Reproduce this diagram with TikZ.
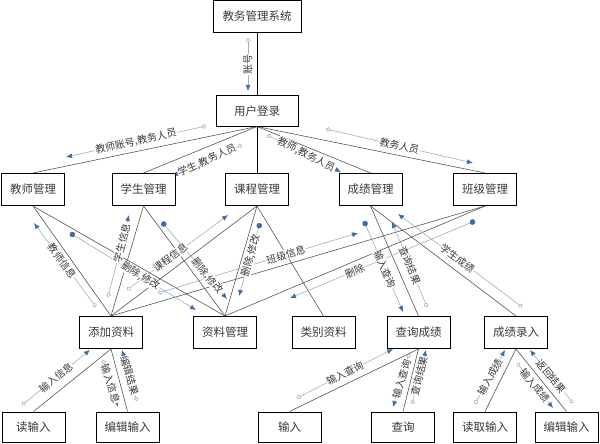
\documentclass[tikz,border=0pt]{standalone}
\usepackage{fontspec}
\setmainfont{Noto Sans CJK SC}
\usetikzlibrary{arrows.meta,backgrounds}
\definecolor{flowc}{HTML}{9AB0C8}
\definecolor{tipc}{HTML}{3F6CA6}
\definecolor{txtc}{HTML}{3A3A3A}
\definecolor{linec}{HTML}{4A4A4A}
\newcommand\flw[4]{\coordinate (#1s) at #2; \coordinate (#1e) at #3; \draw[#4] (#1s) -- (#1e);}
\newcommand\flab[3]{\path (#1s) -- node[lbl,sloped,pos=#2]{#3} (#1e);}
\begin{document}
\begin{tikzpicture}[x=1pt,y=-1pt,
 box/.style={draw=black, line width=1pt, fill=white, minimum width=63pt, minimum height=32pt, inner sep=0pt, font=\fontsize{11.5}{11.5}\selectfont, text=txtc},
 conn/.style={draw=linec, line width=0.55pt},
 flowo/.style={draw=flowc, line width=0.6pt, {Circle[open,length=4.5pt,width=4.5pt]}-{Latex[length=6pt,width=5pt,color=tipc]}},
 flowd/.style={draw=flowc, line width=0.6pt, {Circle[length=5.5pt,width=5.5pt,color=tipc]}-{Latex[length=6pt,width=5pt,color=tipc]}},
 lbl/.style={fill=white, inner sep=0.5pt, font=\fontsize{10}{10}\selectfont, text=txtc},
]
\useasboundingbox (0,0) rectangle (600,444);
% boxes
\node[box, minimum width=88pt] (sys) at (257,16.5) {教务管理系统};
\node[box, minimum width=82pt, minimum height=30pt] (login) at (257,111) {用户登录};
\node[box] (teach) at (33,189.5) {教师管理};
\node[box] (stu) at (143.5,189.5) {学生管理};
\node[box] (course) at (257,189.5) {课程管理};
\node[box] (grade) at (370.5,189.5) {成绩管理};
\node[box] (cls) at (485,189.5) {班级管理};
\node[box] (add) at (111,332.5) {添加资料};
\node[box] (data) at (225,332.5) {资料管理};
\node[box] (cat) at (323.5,332.5) {类别资料};
\node[box] (query) at (418.5,332.5) {查询成绩};
\node[box] (entry) at (516,332.5) {成绩录入};
\node[box, minimum height=30pt] (read) at (33.5,427) {读输入};
\node[box, minimum height=30pt] (edit1) at (127.5,427) {编辑输入};
\node[box, minimum height=30pt] (input) at (289.5,427) {输入};
\node[box, minimum height=30pt] (ask) at (403,427) {查询};
\node[box, minimum height=30pt] (readin) at (485,427) {读取输入};
\node[box, minimum height=30pt] (edit2) at (566.5,427) {编辑输入};
\begin{scope}[on background layer]
% structure lines
\draw[conn, draw=black, line width=0.9pt] (sys.south) -- (login.north);
\draw[conn] (login.south) -- (teach.north);
\draw[conn] (login.south) -- (stu.north);
\draw[conn, draw=black, line width=0.8pt] (login.south) -- (course.north);
\draw[conn] (login.south) -- (grade.north);
\draw[conn] (login.south) -- (cls.north);
\draw[conn] (teach.south) -- (add.north);
\draw[conn] (teach.south) -- (data.north);
\draw[conn] (stu.south) -- (add.north);
\draw[conn] (stu.south) -- (data.north);
\draw[conn] (course.south) -- (add.north);
\draw[conn] (course.south) -- (data.north);
\draw[conn] (course.south) -- (cat.north);
\draw[conn] (grade.south) -- (query.north);
\draw[conn] (grade.south) -- (entry.north);
\draw[conn] (cls.south) -- (add.north);
\draw[conn] (cls.south) -- (data.north);
\draw[conn] (add.south) -- (read.north);
\draw[conn] (add.south) -- (edit1.north);
\draw[conn] (query.south) -- (input.north);
\draw[conn] (query.south) -- (ask.north);
\draw[conn] (entry.south) -- (readin.north);
\draw[conn] (entry.south) -- (edit2.north);
% data flows
\flw{a1}{(248,38)}{(248,91)}{flowo}
\flw{a2}{(206,126)}{(66,157)}{flowo}
\flw{a3}{(242,145)}{(172,176)}{flowo}
\flw{a4}{(267,135)}{(341,172)}{flowo}
\flw{a5}{(326,129)}{(473,163)}{flowo}
\flw{a6}{(96,307)}{(34,223)}{flowo}
\flw{a7}{(70,233)}{(196,310)}{flowd}
\flw{a8}{(108,297)}{(129,215)}{flowo}
\flw{a9}{(127,290)}{(228,215)}{flowo}
\flw{a10}{(162,222)}{(227,299)}{flowd}
\flw{a11}{(260,223)}{(239,296)}{flowd}
\flw{a12}{(158,293)}{(358,233)}{flowo}
\flw{a13}{(475,221)}{(290,298)}{flowd}
\flw{a15}{(364,221)}{(403,312)}{flowd}
\flw{a16}{(427,307)}{(392,222)}{flowo}
\flw{a17}{(522,307)}{(398,214)}{flowo}
\flw{b1}{(22,405)}{(90,350)}{flowo}
\flw{b2}{(103,360)}{(118,407)}{flowo}
\flw{b3}{(137,401)}{(122,350)}{flowo}
\flw{b4}{(297,398)}{(393,349)}{flowo}
\flw{b5}{(409,354)}{(393,407)}{flowo}
\flw{b6}{(412,404)}{(426,350)}{flowo}
\flw{b7}{(475,404)}{(505,350)}{flowo}
\flw{b8}{(517,363)}{(553,408)}{flowo}
\flw{b9}{(573,403)}{(530,350)}{flowo}
% labels
\path (a1s) -- node[lbl,rotate=90,pos=0.5]{账号} (a1e);
\flab{a2}{0.5}{教师账号,教务人员}
\flab{a3}{0.5}{学生,教务人员}
\flab{a4}{0.53}{教师,教务人员}
\flab{a5}{0.5}{教务人员}
\flab{a6}{0.55}{教师信息}
\flab{a8}{0.66}{学生信息}
\flab{a7}{0.56}{删除,修改}
\flab{a9}{0.43}{课程信息}
\flab{a10}{0.7}{删除,修改}
\flab{a12}{0.64}{班级信息}
\flab{a11}{0.45}{删除,修改}
\flab{a13}{0.65}{删除}
\flab{a15}{0.53}{输入查询}
\flab{a16}{0.49}{查询结果}
\flab{a17}{0.52}{学生成绩}
\flab{b1}{0.5}{输入信息}
\flab{b2}{0.5}{输入信息}
\flab{b3}{0.5}{编辑结果}
\flab{b4}{0.5}{输入查询}
\flab{b5}{0.47}{输入查询}
\flab{b6}{0.52}{查询结果}
\flab{b7}{0.5}{输入成绩}
\flab{b8}{0.5}{输入成绩}
\flab{b9}{0.5}{返回结果}
\end{scope}
\end{tikzpicture}
\end{document}
